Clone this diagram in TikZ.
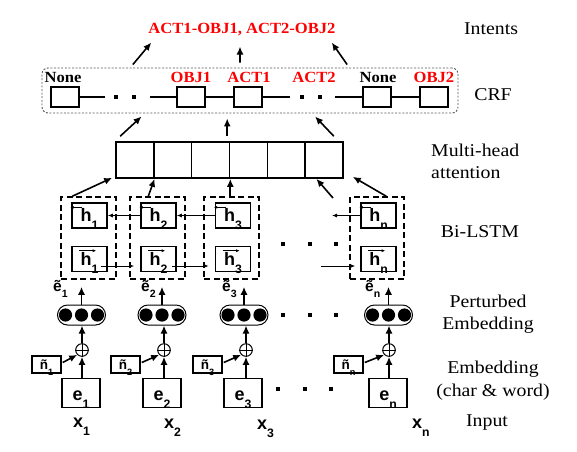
\documentclass[tikz,border=0pt]{standalone}
\usepackage{fontspec}
\usepackage{graphicx}
\setsansfont{Liberation Sans}
\newfontfamily\labfont[FakeStretch=1.1]{Liberation Serif}
\newfontfamily\crffont[FakeStretch=1.07]{Liberation Serif}
\usetikzlibrary{arrows.meta,calc}
\newcommand{\mysub}[1]{\raisebox{-0.45em}{\scalebox{0.68}{#1}}}
\definecolor{crfred}{RGB}{255,0,0}
\begin{document}
\begin{tikzpicture}[x=1pt,y=-1pt,
  every node/.style={inner sep=0pt},
  sbox/.style={draw, line width=1.6pt, font=\sffamily\bfseries\fontsize{18}{18}\selectfont},
  crfbox/.style={draw, line width=1.6pt, minimum width=28pt, minimum height=20pt},
  crflab/.style={font=\crffont\bfseries\fontsize{15.5}{15.5}\selectfont},
  lab/.style={font=\labfont\fontsize{18}{22.5}\selectfont, align=center},
  dashbox/.style={draw, line width=1.5pt, dash pattern=on 6pt off 3.5pt, minimum width=55pt, minimum height=82pt},
  hbox/.style={sbox, fill=white, minimum width=35pt, minimum height=25pt, text height=12.5pt, text depth=0pt},
  ebox/.style={sbox, minimum width=38pt, minimum height=29pt, text height=15pt, text depth=0pt},
  nbox/.style={draw, line width=1.5pt, minimum width=29pt, minimum height=17pt, font=\sffamily\bfseries\fontsize{13.5}{13.5}\selectfont, text height=10pt, text depth=0pt},
  attcell/.style={draw, line width=1.6pt, minimum width=37.83pt, minimum height=36pt},
  pill/.style={draw, line width=1pt, rounded corners=10pt, minimum width=48pt, minimum height=20pt},
  oplus/.style={draw, circle, line width=1pt, minimum size=12.6pt},
  dotsq/.style={fill, minimum size=4pt},
  arr/.style={line width=1.6pt, -{Latex[length=8pt,width=7pt]}},
  tarr/.style={line width=0.8pt, -{Latex[length=5pt,width=4pt]}},
  harr/.style={line width=0.7pt, -{Latex[length=3.5pt,width=3pt]}},
  lbl/.style={font=\sffamily\bfseries\fontsize{18}{18}\selectfont, anchor=base west},
  elbl/.style={font=\sffamily\bfseries\fontsize{15.5}{15.5}\selectfont, anchor=base west}
]
\useasboundingbox (0,0) rectangle (577,451);

% ---------- Intents ----------
\node[crflab, text=crfred] (int) at (242,30) {ACT1-OBJ1, ACT2-OBJ2};

% ---------- CRF ----------
\node[draw=black!65, line width=0.9pt, dash pattern=on 2pt off 1.6pt, rounded corners=6pt,
      minimum width=416pt, minimum height=45pt] (crf) at (250,90.5) {};
\node[crfbox] (c1) at (65,97) {};
\node[crfbox] (c2) at (191,97) {};
\node[crfbox] (c3) at (248,97) {};
\node[crfbox] (c4) at (377,97) {};
\node[crfbox] (c5) at (434,97) {};
\node[crflab] (l1) at (63,77) {None};
\node[crflab, text=crfred] (l2) at (191,77) {OBJ1};
\node[crflab, text=crfred] (l3) at (249,77) {ACT1};
\node[crflab, text=crfred] (l4) at (314,77) {ACT2};
\node[crflab] (l5) at (378,77) {None};
\node[crflab, text=crfred] (l6) at (434,77) {OBJ2};
\coordinate (ch1) at (105,97);
\coordinate (ch2) at (150,97);
\coordinate (ch3) at (290,97);
\coordinate (ch4) at (335,97);
\draw[line width=1.6pt] (c1.east) -- (ch1);
\draw[line width=1.6pt] (ch2) -- (c2.west);
\draw[line width=1.6pt] (c2.east) -- (c3.west);
\draw[line width=1.6pt] (c3.east) -- (ch3);
\draw[line width=1.6pt] (ch4) -- (c4.west);
\draw[line width=1.6pt] (c4.east) -- (c5.west);
\node[dotsq, minimum size=4pt] (cd1) at (116,97) {};
\node[dotsq, minimum size=4pt] (cd2) at (134,97) {};
\node[dotsq, minimum size=4pt] (cd3) at (302,97) {};
\node[dotsq, minimum size=4pt] (cd4) at (320,97) {};

% CRF -> intents
\draw[arr] ($(crf.north west)!0.219!(crf.north east)+(0,-3)$) -- ($(int.south west)+(3,6)$);
\draw[arr] ($(crf.north west)!0.476!(crf.north east)+(0,-5)$) -- ($(int.south)+(-2,10)$);
\draw[arr] ($(crf.north west)!0.733!(crf.north east)+(0,-3)$) -- ($(int.south east)+(-4,6)$);

% ---------- Multi-head attention ----------
\node[attcell] (att1) at (134.92,160) {};
\node[attcell] (att2) at (172.75,160) {};
\node[attcell] (att3) at (210.58,160) {};
\node[attcell] (att4) at (248.42,160) {};
\node[attcell] (att5) at (286.25,160) {};
\node[attcell] (att6) at (324.08,160) {};

% attention -> CRF
\draw[arr] ($(att1.north west)+(5,-5)$) -- ($(crf.south west)!0.24!(crf.south east)+(0,3)$);
\draw[arr] ($(att4.north west)+(-1.5,-5)$) -- ($(att4.north west |- crf.south)+(-1.5,5)$);
\draw[arr] ($(att6.north east)+(-10,-5)$) -- ($(crf.south west)!0.656!(crf.south east)+(0,3)$);

% ---------- Bi-LSTM ----------
\node[dashbox] (bl1) at (88.5,238) {};
\node[dashbox] (bl2) at (157.5,238) {};
\node[dashbox] (bl3) at (231.5,238) {};
\node[dashbox, minimum width=54pt] (bl4) at (377,238) {};

\node[hbox] (hu1) at (89.5,215.5) {h\mysub{1}};
\node[hbox] (hd1) at (89.5,259) {h\mysub{1}};
\node[hbox] (hu2) at (158.5,215.5) {h\mysub{2}};
\node[hbox] (hd2) at (158.5,259) {h\mysub{2}};
\node[hbox] (hu3) at (233,215.5) {h\mysub{3}};
\node[hbox] (hd3) at (233,259) {h\mysub{3}};
\node[hbox] (hu4) at (378.5,215.5) {h\mysub{n}};
\node[hbox] (hd4) at (378.5,259) {h\mysub{n}};

% direction marks over h
\foreach \h in {hu1,hu2,hu3,hu4}
  \draw[harr] ($(\h.north west)+(11,5)$) -- ($(\h.north west)+(-1,5)$);
\foreach \h in {hd1,hd2,hd3,hd4}
  \draw[harr] ($(\h.north west)+(8,5)$) -- ($(\h.north west)+(25,5)$);

% backward
\coordinate (bk) at (332,215.5);
\draw[tarr] (hu2.west) -- (hu1.east);
\draw[tarr] (hu3.west) -- (hu2.east);
\draw[tarr] (hu4.west) -- (bk);
% forward
\coordinate (fw) at (321,266);
\draw[tarr] ($(hd1.east)+(-7,7)$) -- ($(hd2.west)+(-6,7)$);
\draw[tarr] ($(hd2.east)+(-5,7)$) -- ($(hd3.west)+(-6,7)$);
\draw[tarr] (fw) -- ($(hd4.west)+(-5,7)$);

\node[dotsq] (bd1) at (283,244) {};
\node[dotsq] (bd2) at (310,244) {};
\node[dotsq] (bd3) at (336,244) {};

% Bi-LSTM -> attention
\coordinate (a4s) at (333,198);
\draw[arr] ($(bl1.north west)+(12,0)$) -- ($(att1.south west)+(-3,-1)$);
\draw[arr] ($(bl2.north west)+(19,0)$) -- (att1.south east);
\draw[arr] (att3.south east |- bl3.north) -- (att3.south east);
\draw[arr] (a4s) -- ($(att6.south west)+(12,0)$);
\draw[arr] ($(bl4.north west)+(37,0)$) -- ($(att6.south east)+(9,-2)$);

% ---------- Perturbed embedding ----------
\node[pill] (p1) at (81.5,315) {};
\node[pill] (p2) at (162,315) {};
\node[pill] (p3) at (244,315) {};
\node[pill] (p4) at (388.5,315) {};
\foreach \p in {p1,p2,p3,p4}
  \foreach \dx in {-16,0,16}
    \fill ($(\p)+(\dx,0)$) circle[radius=6.6pt];

\node[elbl] (t1) at (53,291) {ẽ\mysub{1}};
\node[elbl] (t2) at (141,291) {ẽ\mysub{2}};
\node[elbl] (t3) at (222,291) {ẽ\mysub{3}};
\node[elbl] (t4) at (365,291) {ẽ\mysub{n}};

\node[dotsq] (pd1) at (283,315) {};
\node[dotsq] (pd2) at (310,315) {};
\node[dotsq] (pd3) at (336,315) {};

% pill -> Bi-LSTM
\draw[arr] (p1.north) -- ($(p1.north |- bl1.south)+(0,7)$);
\draw[arr] (p2.north) -- ($(p2.north |- bl2.south)+(0,7)$);
\draw[arr] (p3.north) -- ($(p3.north |- bl3.south)+(0,7)$);
\draw[arr] (p4.north) -- ($(p4.north |- bl4.south)+(0,7)$);

% ---------- noise + embedding ----------
\node[oplus] (o1) at (82,350) {};
\node[oplus] (o2) at (164,350) {};
\node[oplus] (o3) at (246,350) {};
\node[oplus] (o4) at (389,350) {};
\foreach \o in {o1,o2,o3,o4}
  \draw[line width=1pt] (\o.north) -- (\o.south) (\o.west) -- (\o.east);

\node[nbox] (n1) at (46.5,364.5) {ñ\mysub{1}};
\node[nbox] (n2) at (125.5,364.5) {ñ\mysub{2}};
\node[nbox] (n3) at (207.5,364.5) {ñ\mysub{3}};
\node[nbox] (n4) at (348.5,364.5) {ñ\mysub{n}};

\node[ebox] (e1) at (81,393) {e\mysub{1}};
\node[ebox] (e2) at (162,393) {e\mysub{2}};
\node[ebox] (e3) at (243,393) {e\mysub{3}};
\node[ebox] (e4) at (388,393) {e\mysub{n}};

\node[dotsq] (ed1) at (278,389) {};
\node[dotsq] (ed2) at (305,389) {};
\node[dotsq] (ed3) at (331,389) {};

\foreach \i in {1,2,3,4}{
  \draw[arr] (e\i.north -| o\i.south) -- (o\i.south);
  \draw[arr] (o\i.north) -- (o\i.north |- p\i.south);
  \draw[arr] ($(n\i.east)+(1,-2)$) -- (o\i.south west);
}

% ---------- inputs ----------
\node[lbl] (x1) at (73,427) {x\mysub{1}};
\node[lbl] (x2) at (164,428) {x\mysub{2}};
\node[lbl] (x3) at (257,429) {x\mysub{3}};
\node[lbl] (x4) at (412,428) {x\mysub{n}};

% ---------- layer labels ----------
\node[lab] (Lint) at (491,29) {Intents};
\node[lab] (Lcrf) at (493,95) {CRF};
\node[lab, align=left, anchor=west] (Latt) at (431,161.5) {Multi-head\\attention};
\node[lab] (Llstm) at (480,232) {Bi-LSTM};
\node[lab] (Lpe) at (488,314) {Perturbed\\Embedding};
\node[lab] (Lemb) at (493,380.5) {Embedding\\(char \& word)};
\node[lab] (Lin) at (487,423) {Input};
\end{tikzpicture}
\end{document}
